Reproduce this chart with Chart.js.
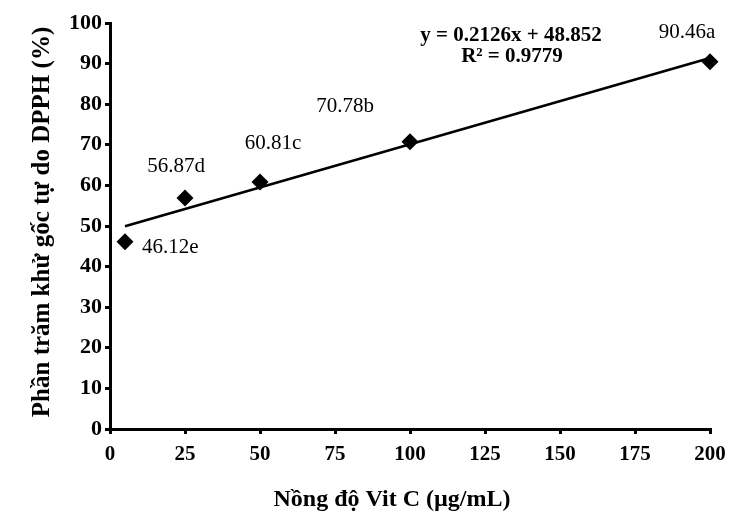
<!DOCTYPE html>
<html><head><meta charset="utf-8">
<script src="https://cdn.jsdelivr.net/npm/chart.js@4"></script>
<style>html,body{margin:0;padding:0;background:#fff}#wrap{width:748px;height:523px}</style>
</head><body><div id="wrap"><canvas id="c" width="748" height="523"></canvas></div>
<script>
const concentrations = [5, 25, 50, 100, 200];
const inhibition = [46.12, 56.87, 60.81, 70.78, 90.46];
const pointLabels = ['46.12e', '56.87d', '60.81c', '70.78b', '90.46a'];
const trendX = [5, 200];
const trendY = [49.92, 91.37];
const xTicks = [0, 25, 50, 75, 100, 125, 150, 175, 200];
const yTicks = [0, 10, 20, 30, 40, 50, 60, 70, 80, 90, 100];
const equationText = 'y = 0.2126x + 48.852';
const r2Text = 'R\u00B2 = 0.9779';
const xTitle = 'N\u1ED3ng \u0111\u1ED9 Vit C (\u00B5g/mL)';
const yTitle = 'Ph\u1EA7n tr\u0103m kh\u1EED g\u1ED1c t\u1EF1 do DPPH (%)';

const SERIF = "'Liberation Serif', 'Times New Roman', serif";
const labelOffsets = [
  {dx: 17, dy: 6, align: 'left'},
  {dx: -9, dy: -32, align: 'center'},
  {dx: 13, dy: -39, align: 'center'},
  {dx: -65, dy: -35, align: 'center'},
  {dx: -23, dy: -29, align: 'center'}
];

const textPlugin = {
  id: 'texts',
  afterDatasetsDraw(chart) {
    const ctx = chart.ctx;
    const xs = chart.scales.x, ys = chart.scales.y;
    ctx.save();
    ctx.fillStyle = '#000';
    ctx.textBaseline = 'middle';
    ctx.font = '21px ' + SERIF;
    concentrations.forEach((c, i) => {
      const px = xs.getPixelForValue(c), py = ys.getPixelForValue(inhibition[i]);
      const o = labelOffsets[i];
      ctx.textAlign = o.align;
      ctx.fillText(pointLabels[i], px + o.dx, py + o.dy);
    });
    ctx.font = 'bold 21px ' + SERIF;
    ctx.textAlign = 'center';
    ctx.fillText(equationText, 511, 36);
    ctx.fillText(r2Text, 512, 57);
    ctx.font = 'bold 24px ' + SERIF;
    ctx.fillText(xTitle, 392, 500);
    ctx.font = 'bold 25px ' + SERIF;
    ctx.translate(43, 222);
    ctx.rotate(-Math.PI / 2);
    ctx.fillText(yTitle, 0, 0);
    ctx.restore();
  }
};

const axisCommon = {
  type: 'linear',
  grid: {drawOnChartArea: false, drawTicks: true, tickLength: 5, color: '#000', lineWidth: 3, tickWidth: 3},
  border: {color: '#000', width: 3}
};

new Chart(document.getElementById('c'), {
  type: 'scatter',
  data: {
    datasets: [
      {
        label: 'trend',
        data: trendX.map((x, i) => ({x, y: trendY[i]})),
        showLine: true, pointRadius: 0, borderColor: '#000', borderWidth: 2.5, fill: false, clip: false
      },
      {
        label: 'DPPH',
        data: concentrations.map((x, i) => ({x, y: inhibition[i]})),
        pointStyle: 'rectRot', pointRadius: 8.5, backgroundColor: '#000', borderColor: '#000', borderWidth: 0, clip: false
      }
    ]
  },
  options: {
    responsive: false, animation: false, devicePixelRatio: 1,
    layout: {padding: {left: 0, right: 38, top: 23, bottom: 0}},
    plugins: {legend: {display: false}, tooltip: {enabled: false}},
    scales: {
      x: Object.assign({}, axisCommon, {
        min: 0, max: 200,
        afterBuildTicks: s => { s.ticks = xTicks.map(v => ({value: v})); },
        ticks: {color: '#000', font: {family: SERIF, size: 21, weight: 'bold'}, padding: 8, maxRotation: 0},
        afterFit: s => { s.height = 94; }
      }),
      y: Object.assign({}, axisCommon, {
        min: 0, max: 100,
        afterBuildTicks: s => { s.ticks = yTicks.map(v => ({value: v})); },
        ticks: {color: '#000', font: {family: SERIF, size: 22, weight: 'bold'}, padding: 3},
        afterFit: s => { s.width = 110; }
      })
    }
  },
  plugins: [textPlugin]
});
</script>
</body></html>
